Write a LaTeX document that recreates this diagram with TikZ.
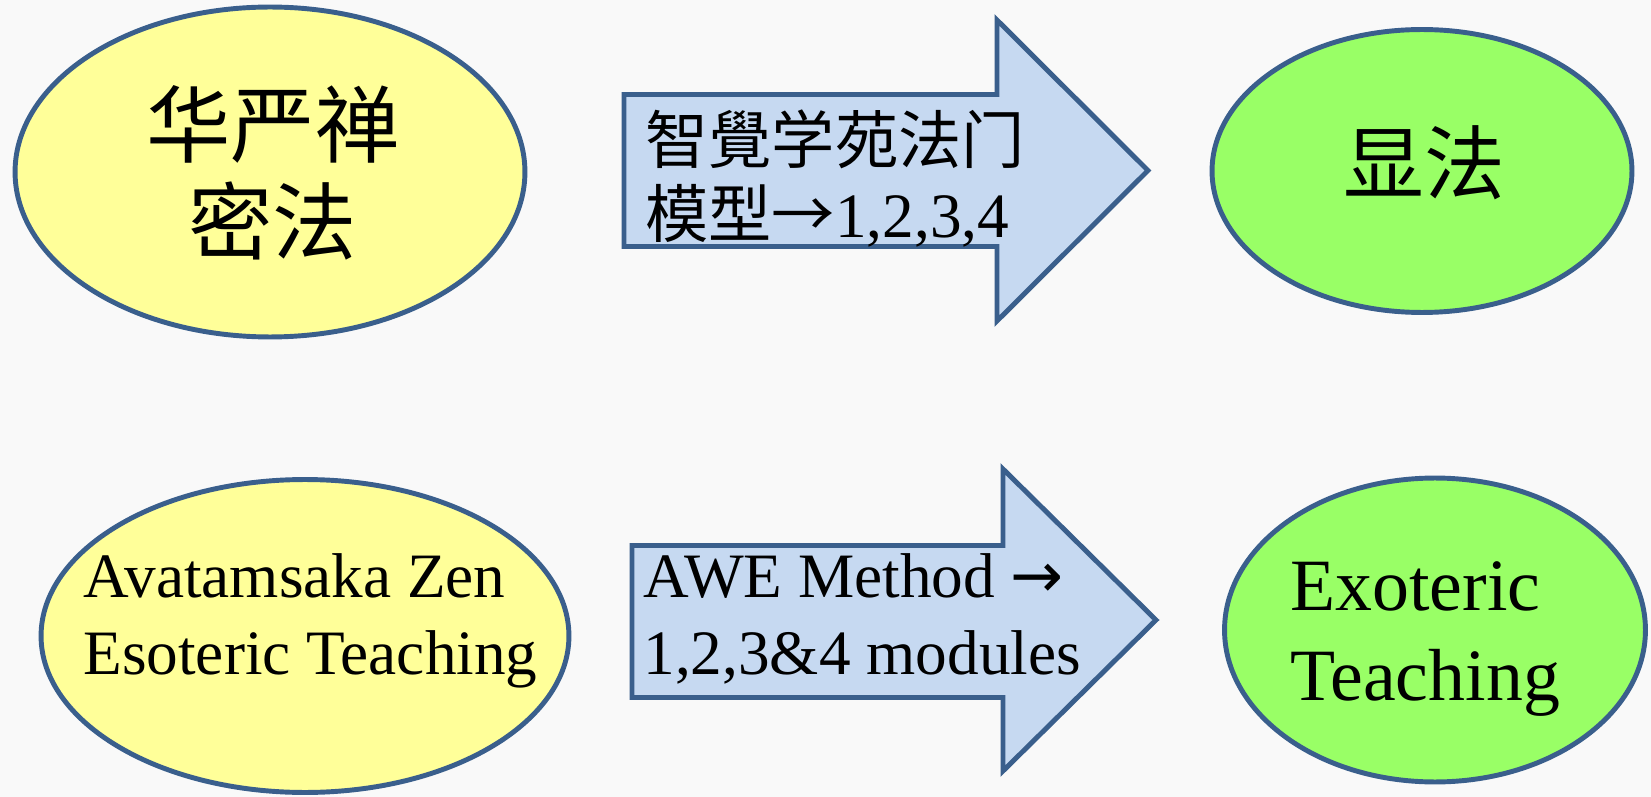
\documentclass[tikz,border=0pt]{standalone}
\usepackage{fontspec}
\setmainfont{Liberation Serif}
\newfontfamily\cjk{Noto Sans CJK SC}
\newfontfamily\symfont{DejaVu Sans}
\usepackage{tikz}
\usetikzlibrary{shapes.geometric}
\definecolor{edgeblue}{HTML}{3A5F8C}
\definecolor{paleyellow}{HTML}{FFFF99}
\definecolor{palegreen}{HTML}{99FF66}
\definecolor{paleblue}{HTML}{C6D9F1}
\definecolor{bggray}{HTML}{F9F9F9}

\begin{document}
\begin{tikzpicture}[x=0.02cm,y=-0.02cm,line width=2.8pt, blob/.style={ellipse,draw=edgeblue,inner sep=0pt}, src/.style={blob,fill=paleyellow}, dst/.style={blob,fill=palegreen}, bigarrow/.style={draw=edgeblue,fill=paleblue,line join=miter}, txt/.style={align=left,inner sep=0pt}, ]

	\fill[bggray] (0,0) rectangle (1651,797);
	\useasboundingbox (0,0) rectangle (1651,797);

	\node[src, minimum width=10.2cm, minimum height=6.6cm] (mi) at (270,172) {};
	\node[dst, minimum width=8.4cm, minimum height=5.66cm] (xian) at (1422,171) {};
	\node[src, minimum width=10.56cm, minimum height=6.26cm] (eso) at (305,636) {};
	\node[dst, minimum width=8.42cm, minimum height=6.08cm] (exo) at (1435,630) {};

	\draw[bigarrow] (624,94.5) -- (997,94.5) -- (997,20) -- (1148,170.5) -- (997,321) -- (997,246.5) -- (624,246.5) -- cycle;
	\draw[bigarrow] (632,545.5) -- (1003,545.5) -- (1003,469) -- (1156,620) -- (1003,771) -- (1003,697.5) -- (632,697.5) -- cycle;

	\node[txt, align=center, font=\cjk\fontsize{48}{55}\selectfont] (miTxt) at (273,173) {华严禅\\密法};
	\node[txt, font=\cjk\fontsize{46}{55}\selectfont] (xianTxt) at (1424,163) {显法};
	\node[txt, anchor=west, font=\cjk\fontsize{36}{42}\selectfont] (zhiTxt) at (643,178.5) {智覺学苑法门\\模型→{\rmfamily 1,2,3,4}};

	\node[txt, anchor=west, font=\fontsize{36}{44}\selectfont] (esoTxt) at (81,621) {Avatamsaka Zen\\Esoteric Teaching};
	\node[txt, anchor=west, font=\fontsize{36}{44}\selectfont] (aweTxt) at (641,619) {AWE Method {\symfont →}\\1,2,3\&4 modules};
	\node[txt, anchor=west, font=\fontsize{42}{51}\selectfont] (exoTxt) at (1288,639) {Exoteric\\Teaching};

\end{tikzpicture}
\end{document}
